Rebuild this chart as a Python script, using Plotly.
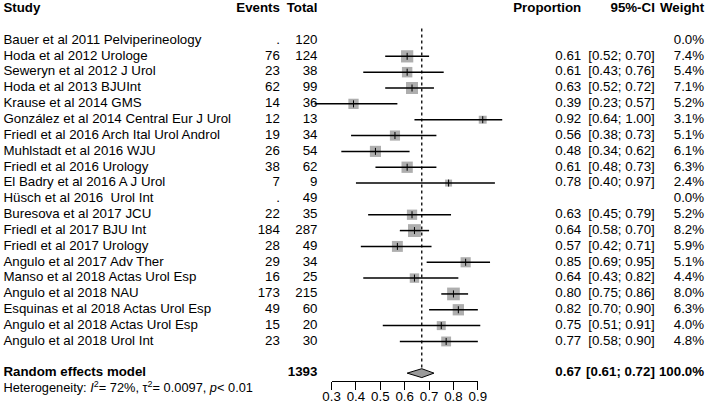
import plotly.graph_objects as go

# ---------------- data ----------------
studies = [
    "Bauer et al 2011 Pelviperineology", "Hoda et al 2012 Urologe", "Seweryn et al 2012 J Urol",
    "Hoda et al 2013 BJUInt", "Krause et al 2014 GMS", "González et al 2014 Central Eur J Urol",
    "Friedl et al 2016 Arch Ital Urol Androl", "Muhlstadt et al 2016 WJU", "Friedl et al 2016 Urology",
    "El Badry et al 2016 A J Urol", "Hüsch et al 2016  Urol Int", "Buresova et al 2017 JCU",
    "Friedl et al 2017 BJU Int", "Friedl et al 2017 Urology", "Angulo et al 2017 Adv Ther",
    "Manso et al 2018 Actas Urol Esp", "Angulo et al 2018 NAU", "Esquinas et al 2018 Actas Urol Esp",
    "Angulo et al 2018 Actas Urol Esp", "Angulo et al 2018 Urol Int",
]
events = [None, 76, 23, 62, 14, 12, 19, 26, 38, 7, None, 22, 184, 28, 29, 16, 173, 49, 15, 23]
totals = [120, 124, 38, 99, 36, 13, 34, 54, 62, 9, 49, 35, 287, 49, 34, 25, 215, 60, 20, 30]
proportion = [None, 0.61, 0.61, 0.63, 0.39, 0.92, 0.56, 0.48, 0.61, 0.78, None, 0.63, 0.64, 0.57,
              0.85, 0.64, 0.80, 0.82, 0.75, 0.77]
ci_lower = [None, 0.52, 0.43, 0.52, 0.23, 0.64, 0.38, 0.34, 0.48, 0.40, None, 0.45, 0.58, 0.42,
            0.69, 0.43, 0.75, 0.70, 0.51, 0.58]
ci_upper = [None, 0.70, 0.76, 0.72, 0.57, 1.00, 0.73, 0.62, 0.73, 0.97, None, 0.79, 0.70, 0.71,
            0.95, 0.82, 0.86, 0.90, 0.91, 0.90]
weights = [0.0, 7.4, 5.4, 7.1, 5.2, 3.1, 5.1, 6.1, 6.3, 2.4, 0.0, 5.2, 8.2, 5.9, 5.1, 4.4, 8.0, 6.3, 4.0, 4.8]

re_total = 1393
re_prop = 0.67
re_lower = 0.61
re_upper = 0.72
heterogeneity = "Heterogeneity: <i>I</i><sup>2</sup>= 72%, τ<sup>2</sup>= 0.0097, <i>p</i>&lt; 0.01"
tick_values = [0.3, 0.4, 0.5, 0.6, 0.7, 0.8, 0.9]
headers = ["Study", "Events", "Total", "Proportion", "95%-CI", "Weight"]

# ---------------- geometry ----------------
W, H = 708, 411          # visible window
OFF = 8                  # extra figure width on each side (hidden by CSS shift)
FW = W + 2 * OFF
FONT = "Liberation Sans"
FS = 13.3
ROW0_PX, ROW_PX = 40.5, 15.84
X_PX03, PX_PER_UNIT = 331.0, 250.0
AXIS_PX = 381
TXT_OFF = 8              # text-trace offset from its anchor

def px2x(px):
    return 0.3 + (px - X_PX03) / PX_PER_UNIT

xmin = px2x(-OFF)
xmax = px2x(W + OFF)
ymax = (H - ROW0_PX) / ROW_PX
ymin = -ROW0_PX / ROW_PX

n = len(studies)
rows = list(range(n))
re_row = n + 1
het_row = n + 2
head_row = -2

col_name = 2.5 - TXT_OFF
col_events, col_total, col_prop, col_ci, col_w = [p + TXT_OFF for p in (270, 308.5, 579, 654.5, 705)]

fig = go.Figure()

cx, cy = [], []
for i in rows:
    if proportion[i] is not None:
        cx += [ci_lower[i], ci_upper[i], None]
        cy += [i, i, None]

fig.add_trace(go.Scatter(x=[re_prop, re_prop], y=[-0.75, re_row], mode="lines",
                         line=dict(color="black", width=1.3, dash="dot"),
                         hoverinfo="skip", showlegend=False))

sx = [proportion[i] for i in rows if proportion[i] is not None]
sy = [i for i in rows if proportion[i] is not None]
ss = [4.5 * (weights[i] ** 0.5) for i in rows if proportion[i] is not None]
fig.add_trace(go.Scatter(x=sx, y=sy, mode="markers",
                         marker=dict(symbol="square", size=ss, color="#8c8c8c", line=dict(width=0)),
                         hoverinfo="skip", showlegend=False))
fig.add_trace(go.Scatter(x=cx, y=cy, mode="lines", line=dict(color="black", width=1.5),
                         hoverinfo="skip", showlegend=False))
fig.add_trace(go.Scatter(x=sx, y=sy, mode="markers",
                         marker=dict(symbol="line-ns", size=5, line=dict(color="black", width=1)),
                         hoverinfo="skip", showlegend=False))

dh = 0.28
fig.add_trace(go.Scatter(x=[re_lower, re_prop, re_upper, re_prop, re_lower],
                         y=[re_row, re_row - dh, re_row, re_row + dh, re_row],
                         mode="lines", fill="toself", fillcolor="#9a9a9a",
                         line=dict(color="black", width=1), hoverinfo="skip", showlegend=False))

fig.add_trace(go.Scatter(x=[0.3, 0.9], y=[-1, -1], xaxis="x2", yaxis="y2", mode="markers",
                         marker=dict(opacity=0), hoverinfo="skip", showlegend=False))

def column(px, ys, texts, pos, size=FS):
    fig.add_trace(go.Scatter(x=[px2x(px)] * len(ys), y=ys, mode="text", text=texts,
                             textposition=pos, cliponaxis=False,
                             textfont=dict(family=FONT, size=size, color="black"),
                             hoverinfo="skip", showlegend=False))

B = lambda s: "<b>" + s + "</b>"

column(col_name, [head_row] + rows + [re_row],
       [B(headers[0])] + studies + [B("Random effects model")], "middle right")
column(col_name, [het_row], [heterogeneity], "middle right", size=12.8)
column(col_events, [head_row] + rows,
       [B(headers[1])] + ["." if e is None else str(e) for e in events], "middle left")
column(col_total, [head_row] + rows + [re_row],
       [B(headers[2])] + [str(t) for t in totals] + [B(str(re_total))], "middle left")
pr_rows = [i for i in rows if proportion[i] is not None]
column(col_prop, [head_row] + pr_rows + [re_row],
       [B(headers[3])] + [f"{proportion[i]:.2f}" for i in pr_rows] + [B(f"{re_prop:.2f}")], "middle left")
column(col_ci, [head_row] + pr_rows + [re_row],
       [B(headers[4])] + [f"[{ci_lower[i]:.2f}; {ci_upper[i]:.2f}]" for i in pr_rows]
       + [B(f"[{re_lower:.2f}; {re_upper:.2f}]")], "middle left")
column(col_w, [head_row] + rows + [re_row],
       [B(headers[5])] + [f"{w:.1f}%" for w in weights] + [B("100.0%")], "middle left")

fig.update_layout(
    width=FW, height=H, margin=dict(l=0, r=0, t=0, b=0),
    paper_bgcolor="white", plot_bgcolor="rgba(0,0,0,0)",
    xaxis=dict(range=[xmin, xmax], visible=False, domain=[0, 1]),
    yaxis=dict(range=[ymax, ymin], visible=False, domain=[0, 1]),
    xaxis2=dict(domain=[(X_PX03 + OFF) / FW, (X_PX03 + 0.6 * PX_PER_UNIT + OFF) / FW],
                range=[0.3, 0.9], anchor="y2", side="bottom", tickvals=tick_values,
                ticktext=[f"{v:.1f}" for v in tick_values],
                ticks="outside", ticklen=8, tickwidth=1.3, tickcolor="black",
                showline=True, linecolor="black", linewidth=1.3,
                showgrid=False, zeroline=False, ticklabelstandoff=-5,
                tickfont=dict(family=FONT, size=FS, color="black")),
    yaxis2=dict(domain=[(H - AXIS_PX) / H, 1], range=[0, 1], visible=False, anchor="x2"),
    font=dict(family=FONT, size=FS, color="black"),
)

html = fig.to_html(config={"displayModeBar": False}, full_html=True)
css = ("<style>html,body{margin:0;padding:0;overflow:hidden;}"
       ".plotly-graph-div{margin-left:-%dpx;}</style>" % OFF)
html = html.replace("<head>", "<head>" + css, 1)
with open("out.html", "w", encoding="utf-8") as f:
    f.write(html)
